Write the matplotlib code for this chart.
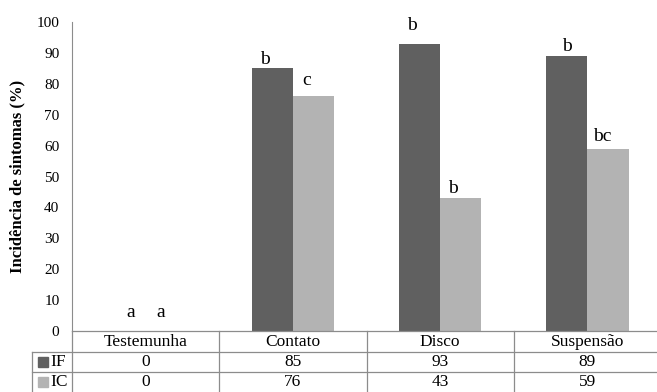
import matplotlib.pyplot as plt
from matplotlib.patches import Rectangle
from matplotlib.lines import Line2D
import numpy as np

plt.rcParams['font.family'] = ['Liberation Serif', 'DejaVu Serif']

# dados
categorias = ['Testemunha', 'Contato', 'Disco', 'Suspensão']
series = ['IF', 'IC']
valores_if = [0, 85, 93, 89]
valores_ic = [0, 76, 43, 59]
letras_if = ['a', 'b', 'b', 'b']
letras_ic = ['a', 'c', 'b', 'bc']
# altura (em %) onde as letras aparecem
pos_letras_if = [6, 88, 99, 92]
pos_letras_ic = [6, 81, 46, 63]
# deslocamento horizontal das letras (fracao da categoria)
desl_if = [0.04, -0.05, -0.05, 0.0]
desl_ic = [-0.04, -0.05, -0.05, -0.04]

cor_if = '#606060'
cor_ic = '#b3b3b3'
cor_borda = '#8c8c8c'

W, H = 657, 392
fig = plt.figure(figsize=(W / 100, H / 100), dpi=100)
x0, x1, y0, y1 = 72, 661, 331, 22
ax = fig.add_axes([x0 / W, 1 - y0 / H, (x1 - x0) / W, (y0 - y1) / H])

x = np.arange(len(categorias))
larg = 0.28
ax.bar(x - larg / 2, valores_if, larg, color=cor_if)
ax.bar(x + larg / 2, valores_ic, larg, color=cor_ic)

# letras de significancia
for i in range(len(categorias)):
    ax.text(x[i] - larg / 2 + desl_if[i], pos_letras_if[i], letras_if[i], ha='center', va='center', fontsize=14)
    ax.text(x[i] + larg / 2 + desl_ic[i], pos_letras_ic[i], letras_ic[i], ha='center', va='center', fontsize=14)

ax.set_xlim(-0.5, len(categorias) - 0.5)
ax.set_ylim(0, 100)
ax.set_yticks(range(0, 101, 10))
ax.tick_params(axis='y', length=0, pad=9, labelsize=11)
ax.set_xticks([])
for s in ['top', 'right', 'bottom']:
    ax.spines[s].set_visible(False)
ax.spines['left'].set_color(cor_borda)
ax.set_ylabel('Incidência de sintomas (%)', fontsize=12, fontweight='bold', labelpad=8)


# tabela de dados (desenhada em pixels da figura)
def fx(px):
    return px / W


def fy(py):
    return 1 - py / H


def linha(xa, ya, xb, yb):
    fig.add_artist(Line2D([fx(xa), fx(xb)], [fy(ya), fy(yb)], transform=fig.transFigure,
                          color=cor_borda, lw=0.9))


larg_col = (x1 - x0) / len(categorias)
linhas_y = [331, 352, 372, 393]
tab_esq = 32
# horizontais
linha(x0, linhas_y[0], x1, linhas_y[0])
for yy in linhas_y[1:]:
    linha(tab_esq, yy, x1, yy)
# verticais
linha(tab_esq, linhas_y[1], tab_esq, linhas_y[3])
for j in range(len(categorias)):
    xx = x0 + j * larg_col
    linha(xx, linhas_y[0], xx, linhas_y[3])

for j, cat in enumerate(categorias):
    xc = x0 + (j + 0.5) * larg_col
    fig.text(fx(xc), fy((linhas_y[0] + linhas_y[1]) / 2), cat, ha='center', va='center', fontsize=12.5)
    for k, vals in enumerate([valores_if, valores_ic]):
        fig.text(fx(xc), fy((linhas_y[k + 1] + linhas_y[k + 2]) / 2), str(vals[j]),
                 ha='center', va='center', fontsize=12.5)

# rotulos das series com quadradinhos
for k, (nome, cor) in enumerate(zip(series, [cor_if, cor_ic])):
    yc = (linhas_y[k + 1] + linhas_y[k + 2]) / 2
    fig.patches.append(Rectangle((fx(38), fy(yc + 4.5)), 10 / W, 10 / H,
                                 transform=fig.transFigure, color=cor, figure=fig))
    fig.text(fx(50), fy(yc), nome, ha='left', va='center', fontsize=12.5)

fig.savefig('out.png', dpi=100)
